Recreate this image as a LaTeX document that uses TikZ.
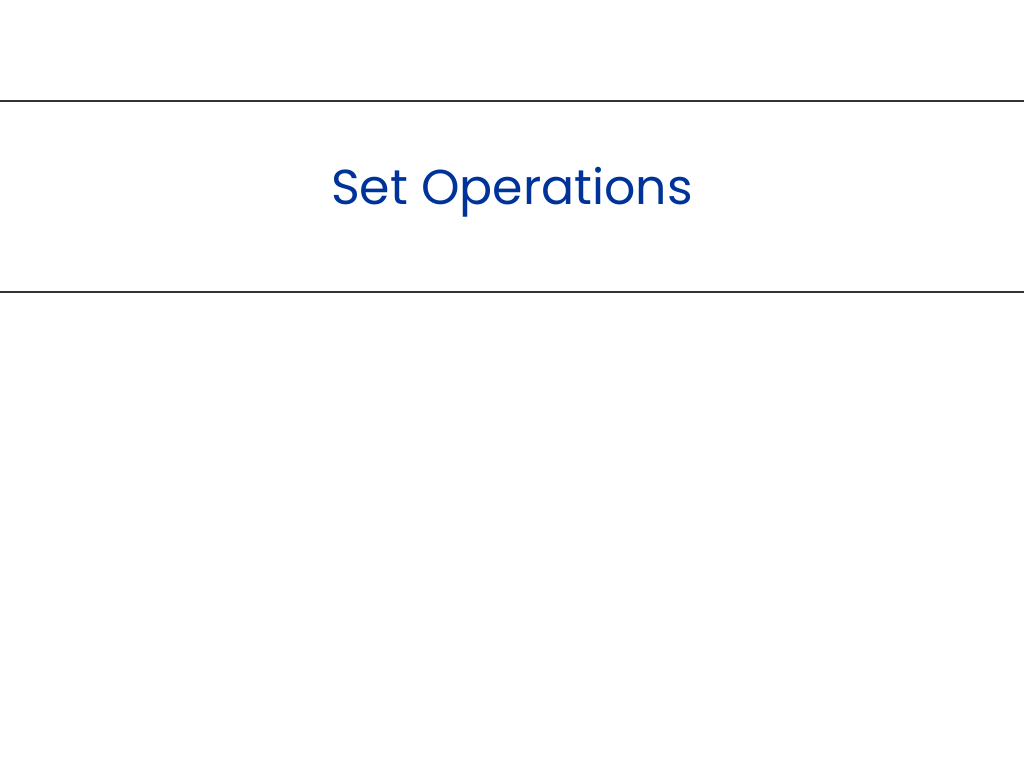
\documentclass[tikz,border=0pt]{standalone}
\usepackage{fontspec}
\setmainfont{Poppins}
\definecolor{titleblue}{RGB}{0,51,153}
\begin{document}
\begin{tikzpicture}[x=1pt,y=-1pt,rule/.style={draw=black!80,line width=1.2pt}]
\useasboundingbox (0,0) rectangle (1024,768);
\coordinate (l1a) at (0,101); \coordinate (l1b) at (1024,101);
\coordinate (l2a) at (0,292); \coordinate (l2b) at (1024,292);
\draw[rule] (l1a) -- (l1b);
\draw[rule] (l2a) -- (l2b);
\node[text=titleblue,font=\fontsize{49}{55}\selectfont] (title) at (512,192) {Set Operations};
\end{tikzpicture}
\end{document}
